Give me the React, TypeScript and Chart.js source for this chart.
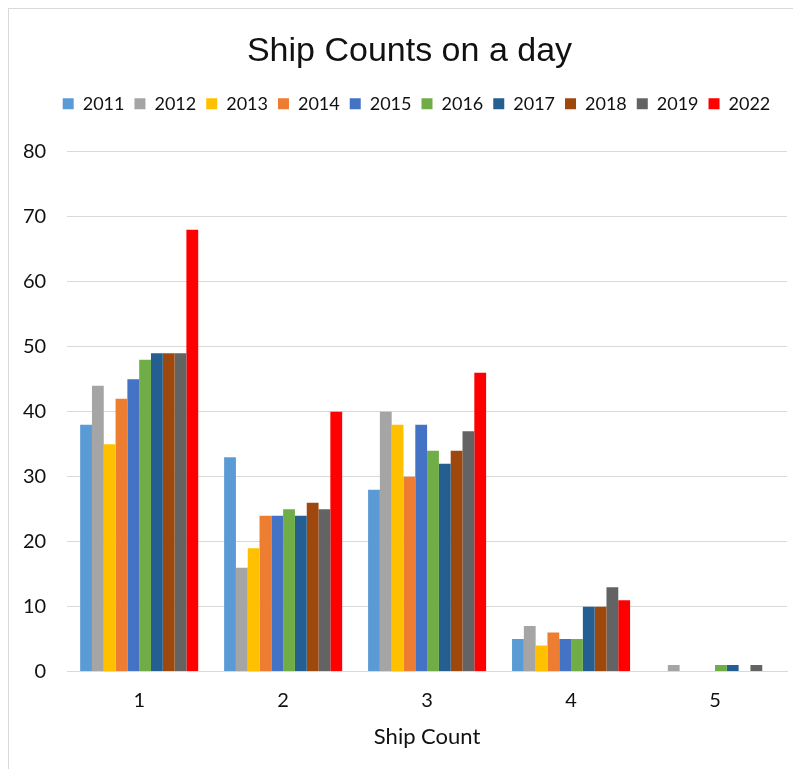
import React, { useEffect, useRef } from "react";
import { Chart, registerables } from "chart.js";

Chart.register(...registerables);

const categories = ["1", "2", "3", "4", "5"];
const years = ["2011", "2012", "2013", "2014", "2015", "2016", "2017", "2018", "2019", "2022"];
const colors = ["#5B9BD5", "#A5A5A5", "#FFC000", "#ED7D31", "#4472C4", "#70AD47", "#255E91", "#9E480E", "#636363", "#FF0000"];
const s2011 = [38, 33, 28, 5, 0];
const s2012 = [44, 16, 40, 7, 1];
const s2013 = [35, 19, 38, 4, 0];
const s2014 = [42, 24, 30, 6, 0];
const s2015 = [45, 24, 38, 5, 0];
const s2016 = [48, 25, 34, 5, 1];
const s2017 = [49, 24, 32, 10, 1];
const s2018 = [49, 26, 34, 10, 0];
const s2019 = [49, 25, 37, 13, 1];
const s2022 = [68, 40, 46, 11, 0];
const series = [s2011, s2012, s2013, s2014, s2015, s2016, s2017, s2018, s2019, s2022];
const yTicksMax = 80;
const yStep = 10;

const shiftBlocks = {
  id: "shiftBlocks",
  beforeInit(chart: any) {
    const legend = chart.legend;
    const origFit = legend.fit;
    legend.fit = function () {
      origFit.bind(this)();
      this.height += 29;
    };
    const origLegendDraw = legend.draw;
    legend.draw = function (...args: any[]) {
      const ctx = chart.ctx;
      ctx.save();
      ctx.translate(16 + 6, 0);
      origLegendDraw.apply(this, args);
      ctx.restore();
    };
    const title = chart.titleBlock;
    if (title) {
      const origTitleDraw = title.draw;
      title.draw = function (...args: any[]) {
        const ctx = chart.ctx;
        ctx.save();
        ctx.translate(9 + 6, 0);
        origTitleDraw.apply(this, args);
        ctx.restore();
      };
    }
  },
};

export default function App() {
  const ref = useRef<HTMLCanvasElement>(null);
  useEffect(() => {
    if (!ref.current) return;
    const chart = new Chart(ref.current, {
      type: "bar",
      data: {
        labels: categories,
        datasets: years.map((y, i) => ({
          label: y,
          data: series[i],
          backgroundColor: colors[i],
          borderWidth: 0,
          categoryPercentage: 0.82,
          barPercentage: 1.0,
        })),
      },
      plugins: [shiftBlocks],
      options: {
        animation: false,
        responsive: false,
        maintainAspectRatio: false,
        layout: { padding: { left: -7, right: 13, top: 14, bottom: 18 } },
        plugins: {
          title: {
            display: true,
            text: "Ship Counts on a day",
            color: "#111111",
            font: { family: "'Liberation Sans', Arial, sans-serif", size: 34, weight: "normal" },
            padding: { top: 8, bottom: 13 },
          },
          legend: {
            position: "top",
            labels: {
              boxWidth: 11,
              boxHeight: 11,
              padding: 10,
              color: "#111111",
              font: { family: "Lato, sans-serif", size: 18 },
            },
          },
          tooltip: { enabled: false },
        },
        scales: {
          x: {
            grid: { display: false, drawTicks: false },
            border: { display: true, color: "#d9d9d9", width: 1 },
            ticks: { color: "#111111", font: { family: "Lato, sans-serif", size: 20 }, padding: 17 },
            title: {
              display: true,
              text: "Ship Count",
              color: "#111111",
              font: { family: "Lato, sans-serif", size: 22 },
              padding: { top: -6, bottom: 0 },
            },
          },
          y: {
            min: 0,
            max: yTicksMax,
            grid: { color: "#d9d9d9", drawTicks: false },
            border: { display: false },
            ticks: {
              stepSize: yStep,
              color: "#111111",
              font: { family: "Lato, sans-serif", size: 20 },
              padding: 21,
            },
          },
        },
      },
    });
    return () => chart.destroy();
  }, []);
  return (
    <div style={{ width: 792, height: 760, borderLeft: "1px solid #d9d9d9", borderTop: "1px solid #d9d9d9" }}>
      <canvas ref={ref} width={791} height={759} style={{ display: "block" }} />
    </div>
  );
}
